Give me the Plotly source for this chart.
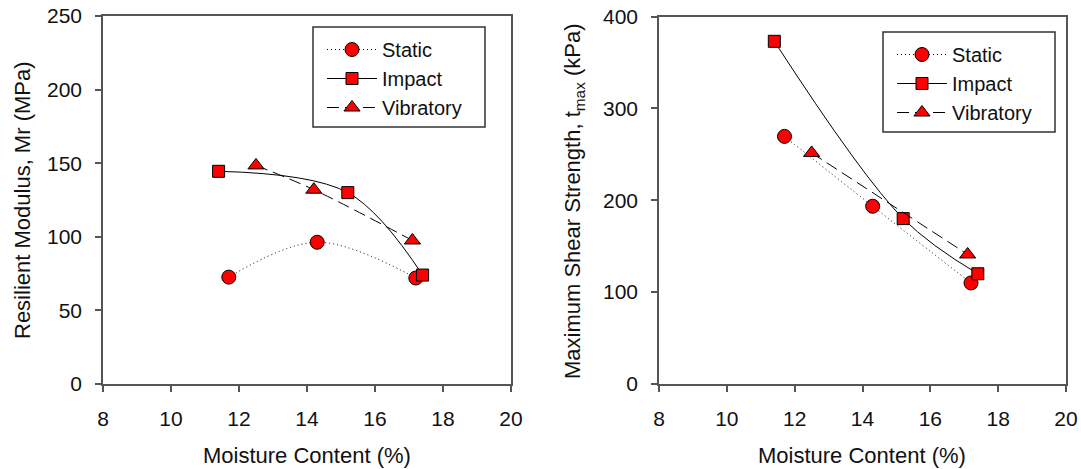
import plotly.graph_objects as go

W, H = 1081, 469

# Left: Resilient modulus (MPa)
mr_static_x = [11.7, 14.3, 17.2]
mr_static_y = [72.6, 96.3, 72.0]
mr_impact_x = [11.4, 15.2, 17.4]
mr_impact_y = [144.5, 130.0, 74.0]
mr_vib_x = [12.5, 14.2, 17.1]
mr_vib_y = [148.5, 132.0, 97.5]

# Right: Maximum shear strength (kPa)
ts_static_x = [11.7, 14.3, 17.2]
ts_static_y = [269.5, 193.5, 110.0]
ts_impact_x = [11.4, 15.2, 17.4]
ts_impact_y = [373.0, 180.0, 120.0]
ts_vib_x = [12.5, 17.1]
ts_vib_y = [251.5, 141.0]

series_names = ["Static", "Impact", "Vibratory"]
x_ticks = [8, 10, 12, 14, 16, 18, 20]
mr_ticks = [0, 50, 100, 150, 200, 250]
ts_ticks = [0, 100, 200, 300, 400]

FONT = "Liberation Sans, Arial, sans-serif"
AXC = "#555555"

styles = {
    "Static": dict(symbol="circle", size=14, dash="1px,3px"),
    "Impact": dict(symbol="square", size=12, dash="solid"),
    "Vibratory": dict(symbol="triangle-up", size=14, dash="12px,6px"),
}

fig = go.Figure()

def add(name, xs, ys, xa, ya, legend):
    st = styles[name]
    fig.add_trace(go.Scatter(
        x=xs, y=ys, name=name, mode="lines+markers",
        xaxis=xa, yaxis=ya, legend=legend,
        line=dict(color="black", width=1, dash=st["dash"], shape="spline", smoothing=1.0),
        marker=dict(symbol=st["symbol"], size=st["size"], color="#ff0000",
                    line=dict(color="black", width=1)),
    ))

add("Static", mr_static_x, mr_static_y, "x", "y", "legend")
add("Impact", mr_impact_x, mr_impact_y, "x", "y", "legend")
add("Vibratory", mr_vib_x, mr_vib_y, "x", "y", "legend")
add("Static", ts_static_x, ts_static_y, "x2", "y2", "legend2")
add("Impact", ts_impact_x, ts_impact_y, "x2", "y2", "legend2")
add("Vibratory", ts_vib_x, ts_vib_y, "x2", "y2", "legend2")

def px_x(p):
    return p / W

def px_y(p):
    return 1 - p / H

axis_common = dict(showline=True, linecolor=AXC, linewidth=1.5, mirror=True,
                   ticks="outside", ticklen=6, tickcolor=AXC, tickwidth=1.5,
                   showgrid=False, zeroline=False, automargin=False,
                   tickfont=dict(family=FONT, size=21, color="#111111"),
                   ticklabelstandoff=9)

leg_common = dict(borderwidth=0, bgcolor="rgba(0,0,0,0)",
                  font=dict(family=FONT, size=20, color="#111111"),
                  xanchor="left", yanchor="top", itemwidth=50,
                  tracegroupgap=0, itemclick=False)

box_style = dict(type="rect", xref="paper", yref="paper",
                 line=dict(color="#333333", width=1.5), fillcolor="white", layer="below")

fig.update_layout(
    width=W, height=H,
    margin=dict(l=0, r=0, t=0, b=0, autoexpand=False),
    paper_bgcolor="white", plot_bgcolor="white",
    showlegend=True,
    xaxis=dict(domain=[px_x(103), px_x(511)], range=[8, 20], tickvals=x_ticks,
               anchor="y", **axis_common),
    yaxis=dict(domain=[px_y(384), px_y(16)], range=[0, 250], tickvals=mr_ticks,
               anchor="x", **axis_common),
    xaxis2=dict(domain=[px_x(659), px_x(1066)], range=[8, 20], tickvals=x_ticks,
                anchor="y2", **axis_common),
    yaxis2=dict(domain=[px_y(384), px_y(16.5)], range=[0, 400], tickvals=ts_ticks,
                anchor="x2", **axis_common),
    legend=dict(x=px_x(322), y=px_y(30), **leg_common),
    legend2=dict(x=px_x(892), y=px_y(35), **leg_common),
    shapes=[
        dict(x0=px_x(313), x1=px_x(485), y0=px_y(127), y1=px_y(27), **box_style),
        dict(x0=px_x(883), x1=px_x(1055), y0=px_y(132), y1=px_y(32), **box_style),
    ],
    annotations=[
        dict(text="Moisture Content (%)", x=px_x(307), y=px_y(455), xref="paper", yref="paper",
             showarrow=False, font=dict(family=FONT, size=22, color="#111111"),
             xanchor="center", yanchor="middle"),
        dict(text="Moisture Content (%)", x=px_x(862), y=px_y(455), xref="paper", yref="paper",
             showarrow=False, font=dict(family=FONT, size=22, color="#111111"),
             xanchor="center", yanchor="middle"),
        dict(text="Resilient Modulus, Mr (MPa)", x=px_x(22), y=px_y(200), xref="paper", yref="paper",
             showarrow=False, textangle=-90, font=dict(family=FONT, size=22, color="#111111"),
             xanchor="center", yanchor="middle"),
        dict(text="Maximum Shear Strength, t<sub>max</sub> (kPa)", x=px_x(574), y=px_y(201),
             xref="paper", yref="paper",
             showarrow=False, textangle=-90, font=dict(family=FONT, size=22, color="#111111"),
             xanchor="center", yanchor="middle"),
    ],
)

fig.write_html("out.html", config={"displayModeBar": False},
               post_script="document.body.style.margin='0';document.body.style.overflow='hidden';")
